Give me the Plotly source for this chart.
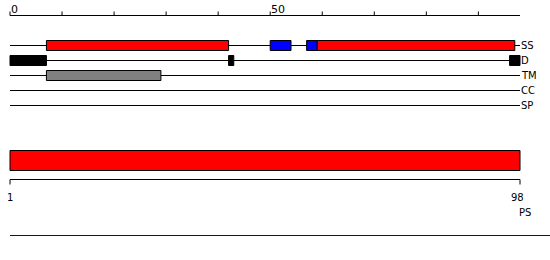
import plotly.graph_objects as go

# ---------------- data ----------------
seq_len = 98
track_names = ["SS", "D", "TM", "CC", "SP"]
# residue ranges (1-based, inclusive)
ss_helix = [(8, 42), (60, 97)]
ss_strand = [(51, 54), (58, 59)]
disorder = [(1, 7), (43, 43), (97, 98)]
tm_regions = [(8, 29)]
cc_regions = []
sp_regions = []
ps_regions = [(1, 98)]
top_ticks = list(range(0, 100, 10))
top_tick_labels = {0: "0", 50: "50"}
ruler_labels = ["1", "98"]

# ---------------- layout constants ----------------
W, H = 550, 260
PX_LEFT = 10
PX_PER_RES = 510 / seq_len
x_min = -PX_LEFT / PX_PER_RES
x_max = (W - PX_LEFT) / PX_PER_RES
row_y = {"SS": 45.5, "D": 60.5, "TM": 75.5, "CC": 90.5, "SP": 105.5}
FONT = "DejaVu Sans"

fig = go.Figure()
shapes = []
annotations = []

# invisible trace so axes exist
fig.add_trace(go.Scatter(x=[0, seq_len], y=[0, 0], mode="markers",
                         marker=dict(opacity=0), hoverinfo="skip", showlegend=False))

# top axis
AX_Y = 15.5
shapes.append(dict(type="line", xref="x", yref="y", x0=0, x1=seq_len, y0=AX_Y, y1=AX_Y,
                   line=dict(color="black", width=1)))
for t in top_ticks:
    shapes.append(dict(type="line", xref="x", yref="y", x0=t, x1=t, y0=AX_Y - 4, y1=AX_Y,
                       line=dict(color="black", width=1)))
    if t in top_tick_labels:
        annotations.append(dict(x=t, y=1, xref="x", yref="y", text=top_tick_labels[t],
                                showarrow=False, xanchor="left", yanchor="top",
                                xshift=-1,
                                font=dict(family=FONT, size=11, color="black")))

# track base lines and labels
for name in track_names:
    y = row_y[name]
    shapes.append(dict(type="line", xref="x", yref="y", x0=0, x1=seq_len, y0=y, y1=y,
                       line=dict(color="black", width=1)))
    annotations.append(dict(x=seq_len, y=y, xref="x", yref="y", text=name,
                            showarrow=False, xanchor="left", yanchor="middle",
                            xshift=-1,
                            font=dict(family=FONT, size=10, color="black")))

def add_boxes(regions, track, fill, border, half=5):
    y = row_y[track]
    for s, e in regions:
        shapes.append(dict(type="rect", xref="x", yref="y", x0=s - 1, x1=e,
                           y0=y - half, y1=y + half, fillcolor=fill,
                           line=dict(color=border, width=1)))

add_boxes(ss_helix, "SS", "#ff0000", "black")
add_boxes(ss_strand, "SS", "#0000ff", "black")
add_boxes(disorder, "D", "black", "black")
add_boxes(tm_regions, "TM", "#808080", "black")
add_boxes(cc_regions, "CC", "#00aa00", "black")
add_boxes(sp_regions, "SP", "#ffff00", "black")

# PS bar
PS_Y0, PS_Y1 = 150.5, 170.5
for s, e in ps_regions:
    shapes.append(dict(type="rect", xref="x", yref="y", x0=s - 1, x1=e,
                       y0=PS_Y0, y1=PS_Y1, fillcolor="#ff0000",
                       line=dict(color="black", width=1)))

# ruler
R_Y = 179.5
shapes.append(dict(type="line", xref="x", yref="y", x0=0, x1=seq_len, y0=R_Y, y1=R_Y,
                   line=dict(color="black", width=1)))
for xv in (0, seq_len):
    shapes.append(dict(type="line", xref="x", yref="y", x0=xv, x1=xv, y0=R_Y, y1=R_Y + 5,
                       line=dict(color="black", width=1)))
annotations.append(dict(x=0, y=190, xref="x", yref="y", text=ruler_labels[0], showarrow=False,
                        xanchor="center", yanchor="top",
                        font=dict(family=FONT, size=10, color="black")))
annotations.append(dict(x=seq_len, y=190, xref="x", yref="y", text=ruler_labels[1], showarrow=False,
                        xanchor="center", yanchor="top", xshift=-3,
                        font=dict(family=FONT, size=10, color="black")))
annotations.append(dict(x=seq_len, y=205, xref="x", yref="y", text="PS", showarrow=False,
                        xanchor="left", yanchor="top", xshift=-3,
                        font=dict(family=FONT, size=10, color="black")))

# bottom separator
shapes.append(dict(type="line", xref="x", yref="y", x0=0, x1=x_max, y0=235.5, y1=235.5,
                   line=dict(color="#0000cc", width=1)))

fig.update_layout(
    width=W, height=H,
    margin=dict(l=0, r=0, t=0, b=0),
    paper_bgcolor="white", plot_bgcolor="white",
    xaxis=dict(range=[x_min, x_max], visible=False, fixedrange=True),
    yaxis=dict(range=[H, 0], visible=False, fixedrange=True),
    shapes=shapes, annotations=annotations,
    showlegend=False,
)

fig.write_html("out.html")
